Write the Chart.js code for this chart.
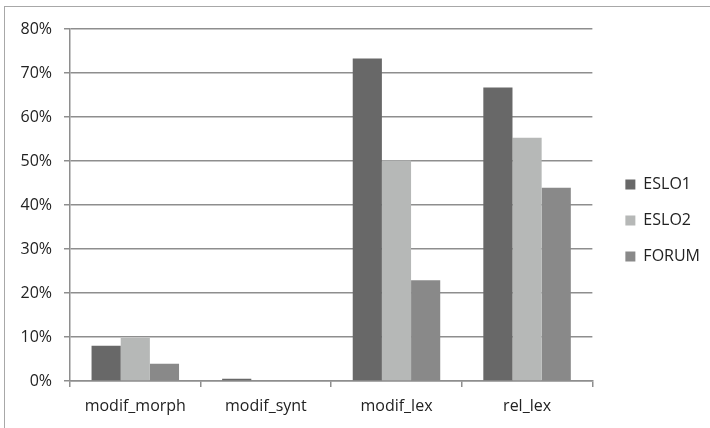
<!DOCTYPE html>
<html>
<head>
<meta charset="utf-8">
<script src="https://cdn.jsdelivr.net/npm/chart.js@4"></script>
<style>
  html, body { margin: 0; padding: 0; background: #fff; }
  #wrap { position: relative; width: 710px; height: 428px; }
  #frame { position: absolute; left: 4px; top: 6px; right: -2px; bottom: -2px;
           border-left: 1px solid #a8a8a8; border-top: 1px solid #a8a8a8; }
  canvas { position: absolute; left: 0; top: 0; }
</style>
</head>
<body>
<div id="wrap">
  <div id="frame"></div>
  <canvas id="myChart" width="710" height="428"></canvas>
</div>
<script>
// categories et séries
const categories = ['modif_morph', 'modif_synt', 'modif_lex', 'rel_lex'];
const eslo1 = [0.080, 0.005, 0.733, 0.667];
const eslo2 = [0.098, 0, 0.501, 0.553];
const forum = [0.039, 0, 0.229, 0.439];
const yTicks = [0, 0.1, 0.2, 0.3, 0.4, 0.5, 0.6, 0.7, 0.8];

const fontFamily = "'Open Sans', 'DejaVu Sans', sans-serif";
const gridColor = '#8e8e8e';

// axe vide, sert juste à réserver de la place
function spacer(position, size) {
    return {
        position: position,
        grid: { display: false },
        border: { display: false },
        ticks: { display: false },
        afterFit: function (scale) {
            if (position === 'top') scale.height = size;
            else scale.width = size;
        }
    };
}

var ctx = document.getElementById('myChart').getContext('2d');
var chart = new Chart(ctx, {
    type: 'bar',
    data: {
        labels: categories,
        datasets: [
            { label: 'ESLO1', data: eslo1, backgroundColor: '#686868' },
            { label: 'ESLO2', data: eslo2, backgroundColor: '#b6b8b7' },
            { label: 'FORUM', data: forum, backgroundColor: '#898989' }
        ]
    },
    options: {
        responsive: false,
        animation: false,
        layout: { padding: { top: 13, right: 0, bottom: 0, left: 0 } },
        datasets: {
            bar: { categoryPercentage: 0.67, barPercentage: 1.0 }
        },
        plugins: {
            legend: {
                position: 'right',
                labels: {
                    boxWidth: 10,
                    boxHeight: 10,
                    padding: 20,
                    color: '#222',
                    font: { family: fontFamily, size: 16 }
                }
            },
            tooltip: { enabled: false }
        },
        scales: {
            x: {
                grid: {
                    display: true,
                    drawOnChartArea: false,
                    drawTicks: true,
                    tickLength: 6,
                    color: gridColor,
                    lineWidth: 1.5
                },
                border: { color: gridColor, width: 1.5 },
                ticks: {
                    color: '#222',
                    padding: 10,
                    font: { family: fontFamily, size: 16 }
                },
                afterFit: function (scale) { scale.height = 47; }
            },
            y: {
                min: 0,
                max: 0.8,
                afterBuildTicks: function (scale) {
                    scale.ticks = yTicks.map(v => ({ value: v }));
                },
                grid: {
                    color: gridColor,
                    lineWidth: 1.5,
                    tickLength: 6
                },
                border: { color: gridColor, width: 1.5 },
                ticks: {
                    color: '#222',
                    padding: 12,
                    font: { family: fontFamily, size: 16 },
                    callback: function (v) { return Math.round(v * 100) + '%'; }
                },
                afterFit: function (scale) { scale.width = 70; }
            },
            gapTop: spacer('top', 16),
            gapRight: spacer('right', 13)
        }
    }
});
</script>
</body>
</html>
